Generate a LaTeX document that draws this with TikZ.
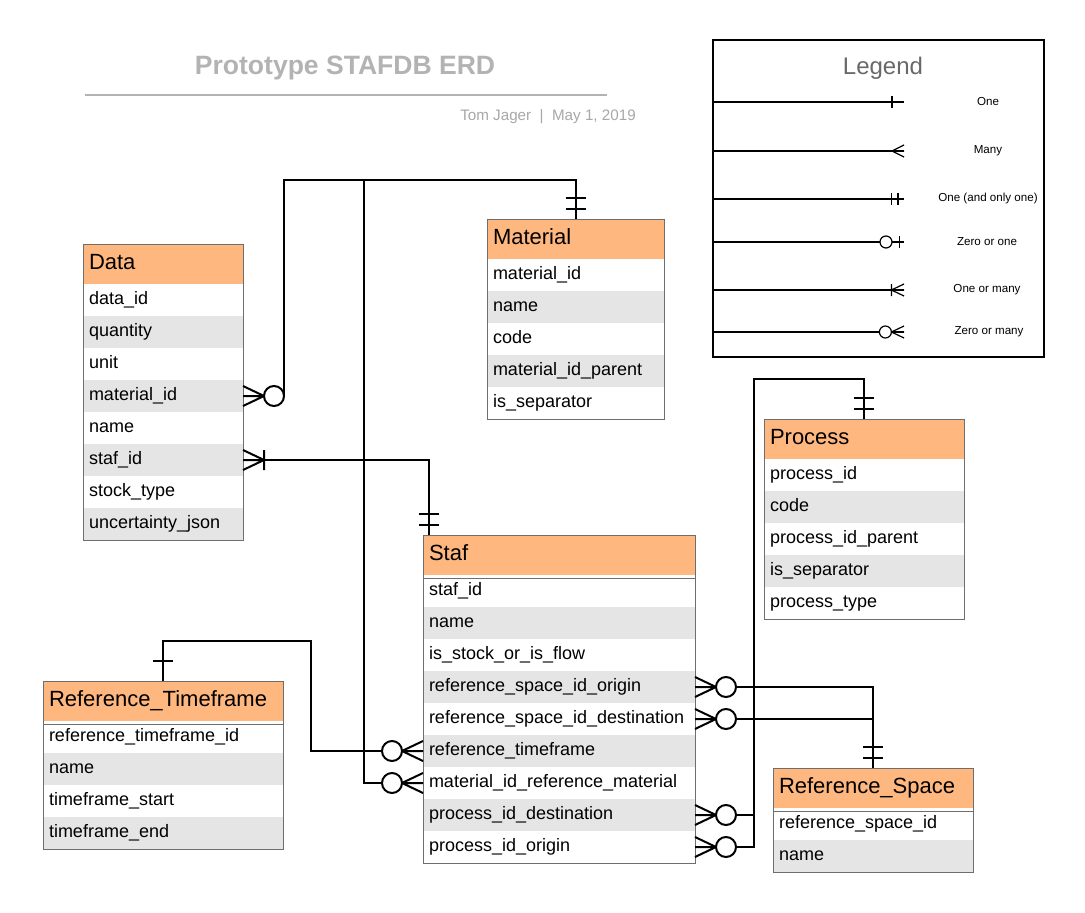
\documentclass[tikz,border=0pt]{standalone}
\usepackage{fontspec}
\setmainfont{Liberation Sans}
\usetikzlibrary{positioning, calc}

\definecolor{headorange}{RGB}{255,183,128}
\definecolor{rowgray}{RGB}{229,229,229}
\definecolor{framegray}{RGB}{110,110,110}
\definecolor{titlegray}{RGB}{179,179,179}
\definecolor{subgray}{RGB}{168,168,168}
\definecolor{leggray}{RGB}{105,105,105}

% crow's foot ends: origin on the table edge, +x away from the table
\tikzset{
    erone/.pic      = {\draw (0,0) -- (20,0) (20,-10) -- (20,10);},
    eronlyone/.pic  = {\draw (0,0) -- (21,0) (10,-10) -- (10,10) (21,-10) -- (21,10);},
    ermany/.pic     = {\draw (0,-10) -- (20,0) -- (0,10) (0,0) -- (20,0);},
    eronemany/.pic  = {\draw (0,-10) -- (21,0) -- (0,10) (0,0) -- (21,0) (21,-10) -- (21,10);},
    erzeroone/.pic  = {\draw (0,0) -- (20,0) (8,-10) -- (8,10);
                       \draw[fill=white] (30,0) circle[radius=7.5pt];},
    erzeromany/.pic = {\draw (0,-10) -- (21,0) -- (0,10) (0,0) -- (21,0);
                       \draw[fill=white] (31,0) circle[radius=7.5pt];}
}

\begin{document}
\begin{tikzpicture}[
    x=0.75pt, y=-0.75pt,
    tabhead/.style  = {rectangle, draw=framegray, line width=0.75pt, fill=headorange,
                       inner xsep=4.5pt, inner ysep=0pt, outer sep=0pt, minimum height=30pt,
                       text width=#1, align=left, text height=11.5pt, text depth=3.5pt,
                       font=\fontsize{16.5}{19}\selectfont},
    rowa/.style     = {rectangle, fill=white, inner xsep=4.5pt, inner ysep=0pt, outer sep=0pt,
                       minimum height=24pt, text width=#1, align=left,
                       text height=10pt, text depth=3pt, font=\fontsize{13.5}{16}\selectfont},
    rowb/.style     = {rowa=#1, fill=rowgray},
    tabframe/.style = {draw=framegray, line width=0.75pt},
    link/.style     = {line width=1.5pt},
    foot/.style     = {line width=1.5pt},
    legfoot/.style  = {line width=0.9pt, scale=0.6},
    legline/.style  = {line width=0.9pt},
    legtext/.style  = {font=\fontsize{8.7}{10}\selectfont}
]

\path[fill=white, use as bounding box] (0,0) rectangle (1085,913);

% =====================
% Title
% =====================
\node[text=titlegray, font=\fontsize{19.9}{23}\selectfont\bfseries] (title) at (345,68) {Prototype STAFDB ERD};
\draw[titlegray, line width=1.5pt] (85,95) -- (607,95);
\node[anchor=east, inner sep=0pt, text=subgray, font=\fontsize{11.4}{13}\selectfont] (author) at (636,117) {Tom Jager~~|~~May 1, 2019};

% =====================
% Legend
% =====================
\node[draw, line width=1.5pt, minimum width=248.25pt, minimum height=237.75pt,
      inner sep=0pt, outer sep=0pt] (legend) at (878.5,198.5) {};
\node[text=leggray, font=\fontsize{18}{21}\selectfont] (leg-t) at (883,68) {Legend};

\node[legtext] (lg-one)  at (988,102) {One};
\node[legtext] (lg-many) at (988,151) {Many};
\node[legtext] (lg-oo)   at (988,199) {One (and only one)};
\node[legtext] (lg-zo)   at (987,242) {Zero or one};
\node[legtext] (lg-om)   at (987,290) {One or many};
\node[legtext] (lg-zm)   at (989,332) {Zero or many};

\draw[legline] (legend.west |- lg-one)  -- ($(lg-one)+(-84,0)$)  coordinate (e-one);
\draw[legline] (legend.west |- lg-many) -- ($(lg-many)+(-84,0)$) coordinate (e-many);
\draw[legline] (legend.west |- lg-oo)   -- ($(lg-oo)+(-84,0)$)   coordinate (e-oo);
\draw[legline] (legend.west |- lg-zo)   -- ($(lg-zo)+(-83,0)$)   coordinate (e-zo);
\draw[legline] (legend.west |- lg-om)   -- ($(lg-om)+(-83,0)$)   coordinate (e-om);
\draw[legline] (legend.west |- lg-zm)   -- ($(lg-zm)+(-85,0)$)   coordinate (e-zm);

\pic[legfoot, rotate=180] at (e-one)  {erone};
\pic[legfoot, rotate=180] at (e-many) {ermany};
\pic[legfoot, rotate=180] at (e-oo)   {eronlyone};
\pic[legfoot, rotate=180] at (e-zo)   {erzeroone};
\pic[legfoot, rotate=180] at (e-om)   {eronemany};
\pic[legfoot, rotate=180] at (e-zm)   {erzeromany};

% =====================
% Tables
% =====================

% Data
\node[tabhead=111pt, anchor=north west] (data-h) at (83,244) {Data};
\node[rowa=111pt, below=0pt of data-h] (data-1) {data\_id};
\node[rowb=111pt, below=0pt of data-1] (data-2) {quantity};
\node[rowa=111pt, below=0pt of data-2] (data-3) {unit};
\node[rowb=111pt, below=0pt of data-3] (data-4) {material\_id};
\node[rowa=111pt, below=0pt of data-4] (data-5) {name};
\node[rowb=111pt, below=0pt of data-5] (data-6) {staf\_id};
\node[rowa=111pt, below=0pt of data-6] (data-7) {stock\_type};
\node[rowb=111pt, below=0pt of data-7] (data-8) {uncertainty\_json};
\draw[tabframe] (data-h.north west) rectangle (data-8.south east);

% Material
\node[tabhead=123.75pt, anchor=north west] (mat-h) at (487,219) {Material};
\node[rowa=123.75pt, below=0pt of mat-h] (mat-1) {material\_id};
\node[rowb=123.75pt, below=0pt of mat-1] (mat-2) {name};
\node[rowa=123.75pt, below=0pt of mat-2] (mat-3) {code};
\node[rowb=123.75pt, below=0pt of mat-3] (mat-4) {material\_id\_parent};
\node[rowa=123.75pt, below=0pt of mat-4] (mat-5) {is\_separator};
\draw[tabframe] (mat-h.north west) rectangle (mat-5.south east);

% Process
\node[tabhead=141pt, anchor=north west] (proc-h) at (764,419) {Process};
\node[rowa=141pt, below=0pt of proc-h] (proc-1) {process\_id};
\node[rowb=141pt, below=0pt of proc-1] (proc-2) {code};
\node[rowa=141pt, below=0pt of proc-2] (proc-3) {process\_id\_parent};
\node[rowb=141pt, below=0pt of proc-3] (proc-4) {is\_separator};
\node[rowa=141pt, below=0pt of proc-4] (proc-5) {process\_type};
\draw[tabframe] (proc-h.north west) rectangle (proc-5.south east);

% Staf
\node[tabhead=195pt, anchor=north west] (staf-h) at (423,535) {Staf};
\node[rowa=195pt, below=0pt of staf-h] (staf-1) {staf\_id};
\node[rowb=195pt, below=0pt of staf-1] (staf-2) {name};
\node[rowa=195pt, below=0pt of staf-2] (staf-3) {is\_stock\_or\_is\_flow};
\node[rowb=195pt, below=0pt of staf-3] (staf-4) {reference\_space\_id\_origin};
\node[rowa=195pt, below=0pt of staf-4] (staf-5) {reference\_space\_id\_destination};
\node[rowb=195pt, below=0pt of staf-5] (staf-6) {reference\_timeframe};
\node[rowa=195pt, below=0pt of staf-6] (staf-7) {material\_id\_reference\_material};
\node[rowb=195pt, below=0pt of staf-7] (staf-8) {process\_id\_destination};
\node[rowa=195pt, below=0pt of staf-8] (staf-9) {process\_id\_origin};
\draw[tabframe] (staf-h.north west) rectangle (staf-9.south east);
\draw[tabframe] ($(staf-1.north west)+(0,3)$) -- ($(staf-1.north east)+(0,3)$);

% Reference_Timeframe
\node[tabhead=171pt, anchor=north west] (tf-h) at (43,681) {Reference\_Timeframe};
\node[rowa=171pt, below=0pt of tf-h] (tf-1) {reference\_timeframe\_id};
\node[rowb=171pt, below=0pt of tf-1] (tf-2) {name};
\node[rowa=171pt, below=0pt of tf-2] (tf-3) {timeframe\_start};
\node[rowb=171pt, below=0pt of tf-3] (tf-4) {timeframe\_end};
\draw[tabframe] (tf-h.north west) rectangle (tf-4.south east);
\draw[tabframe] ($(tf-1.north west)+(0,3)$) -- ($(tf-1.north east)+(0,3)$);

% Reference_Space
\node[tabhead=141pt, anchor=north west] (rs-h) at (773,768) {Reference\_Space};
\node[rowa=141pt, below=0pt of rs-h] (rs-1) {reference\_space\_id};
\node[rowb=141pt, below=0pt of rs-1] (rs-2) {name};
\draw[tabframe] (rs-h.north west) rectangle (rs-2.south east);
\draw[tabframe] ($(rs-1.north west)+(0,3)$) -- ($(rs-1.north east)+(0,3)$);

% ====================================
% Relations
% ====================================
\coordinate (matbus)  at ($(mat-h.north)+(-211.5,-39)$);
\coordinate (procbus) at ($(proc-h.north)+(-110,-40)$);

\draw[link] ($(data-4.east)+(41,0)$) |- ($(mat-h.north)+(0,-39)$) -- (mat-h.north);
\draw[link] ($(staf-7.west)+(-41,0)$) -| (matbus);
\draw[link] ($(data-6.east)+(22,0)$) -| ($(staf-h.north west)+(6,0)$);
\draw[link] (tf-h.north) -- ++(0,-40) -| ($(staf-6.west)+(-112,0)$) -- ($(staf-6.west)+(-41,0)$);
\draw[link] ($(staf-9.east)+(41,0)$) -| (procbus) -| (proc-h.north);
\draw[link] ($(staf-8.east)+(41,0)$) -- (staf-8.east -| procbus);
\draw[link] ($(staf-4.east)+(41,0)$) -| (rs-h.north);
\draw[link] ($(staf-5.east)+(41,0)$) -- (staf-5.east -| rs-h.north);

% ends
\pic[foot] at (data-4.east) {erzeromany};
\pic[foot, rotate=90] at (mat-h.north) {eronlyone};
\pic[foot, rotate=180] at (staf-7.west) {erzeromany};
\pic[foot] at (data-6.east) {eronemany};
\pic[foot, rotate=90] at ($(staf-h.north west)+(6,0)$) {eronlyone};
\pic[foot, rotate=90] at (tf-h.north) {erone};
\pic[foot, rotate=180] at (staf-6.west) {erzeromany};
\pic[foot, rotate=90] at (proc-h.north) {eronlyone};
\pic[foot] at (staf-8.east) {erzeromany};
\pic[foot] at (staf-9.east) {erzeromany};
\pic[foot, rotate=90] at (rs-h.north) {eronlyone};
\pic[foot] at (staf-4.east) {erzeromany};
\pic[foot] at (staf-5.east) {erzeromany};

\end{tikzpicture}
\end{document}
